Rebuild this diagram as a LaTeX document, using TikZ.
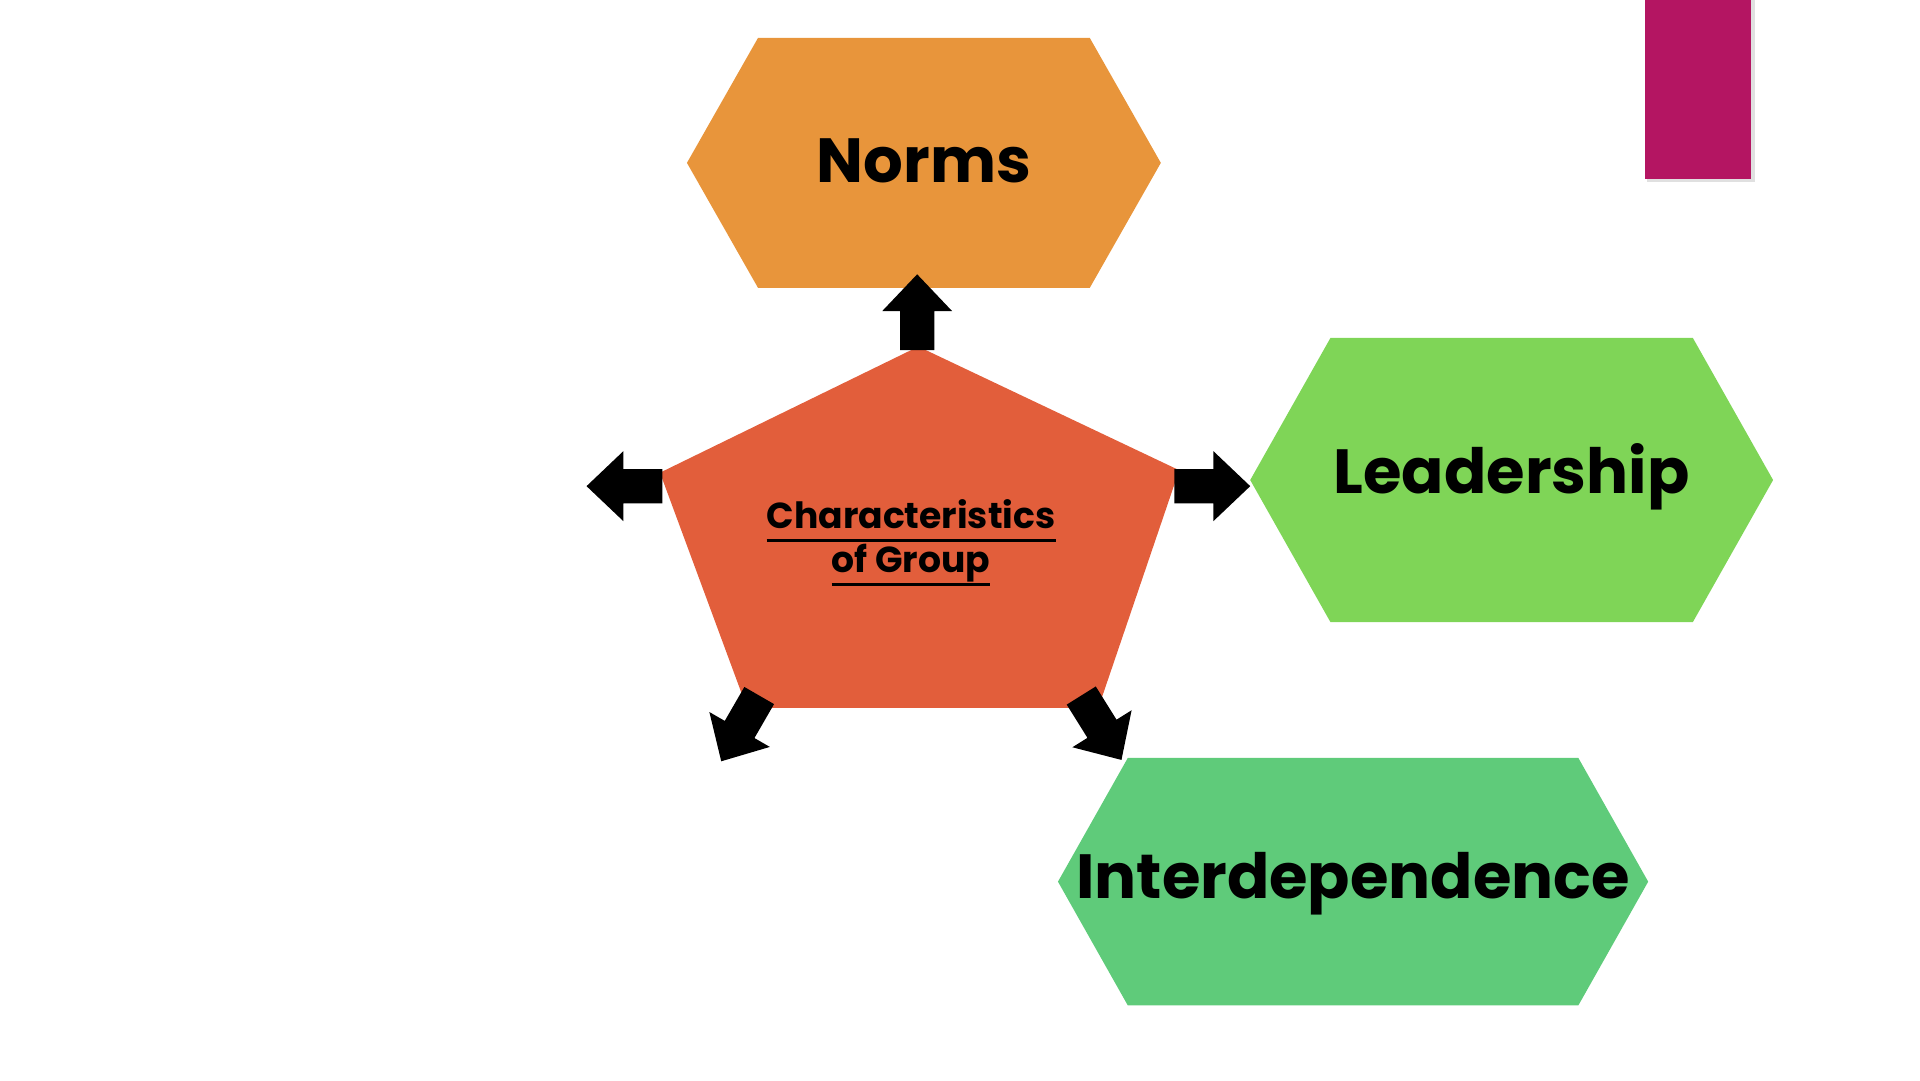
\documentclass[tikz,border=0pt]{standalone}
\usepackage{fontspec}
\setmainfont{Poppins}
\definecolor{normsorange}{RGB}{232,149,59}
\definecolor{leadgreen}{RGB}{127,213,87}
\definecolor{interdgreen}{RGB}{95,203,122}
\definecolor{charred}{RGB}{226,94,59}
\definecolor{barmagenta}{RGB}{180,21,98}
\newcommand\ulfixed[1]{\setbox0\hbox{#1}\leavevmode\rlap{\rule[-0.37em]{\wd0}{0.075em}}\box0}
\begin{document}
\begin{tikzpicture}[x=1cm,y=-1cm,line join=round,
  hexlabel/.style={font=\fontsize{14.5}{17}\selectfont\bfseries},
  centrelabel/.style={font=\fontsize{8.4}{10.2}\selectfont\bfseries,align=center}]
\useasboundingbox (0,0) rectangle (15.68,8.82);
\fill[black!12] (13.45,0) rectangle (14.33,1.49);
\fill[barmagenta] (13.43,0) rectangle (14.30,1.46);
\foreach \cx/\cy/\wi/\wo/\hh/\dy/\col/\nm/\txt in
  {7.545/1.33/1.355/1.935/1.02/-0.02/normsorange/norms/Norms,
   12.345/3.92/1.48/2.135/1.16/-0.03/leadgreen/leadership/Leadership,
   11.05/7.20/1.84/2.41/1.01/0.02/interdgreen/interdep/Interdependence}
  {\fill[\col] (\cx-\wo,\cy)--(\cx-\wi,\cy-\hh)--(\cx+\wi,\cy-\hh)
     --(\cx+\wo,\cy)--(\cx+\wi,\cy+\hh)--(\cx-\wi,\cy+\hh)--cycle;
   \node[hexlabel] (\nm) at (\cx,\cy+\dy) {\txt};}
\path (7.50,2.83) coordinate (T)
  (5.39,3.86) coordinate (L)
  (9.63,3.84) coordinate (R)
  (6.10,5.78) coordinate (BL)
  (8.97,5.78) coordinate (BR);
\fill[charred] (T)--(R)--(BR)--(BL)--(L)--cycle;
\node[centrelabel] (charac) at (7.44,4.43)
  {\ulfixed{Characteristics}\\\ulfixed{of Group}};
\foreach \x/\y/\a in {7.49/2.86/90, 5.41/3.97/180, 9.59/3.97/0,
   6.20/5.68/-120, 8.83/5.68/-58}
  {\fill[shift={(\x,\y)},rotate=\a] (0,-0.14)--(0.32,-0.14)--(0.32,-0.285)
     --(0.62,0)--(0.32,0.285)--(0.32,0.14)--(0,0.14)--cycle;}
\end{tikzpicture}
\end{document}
